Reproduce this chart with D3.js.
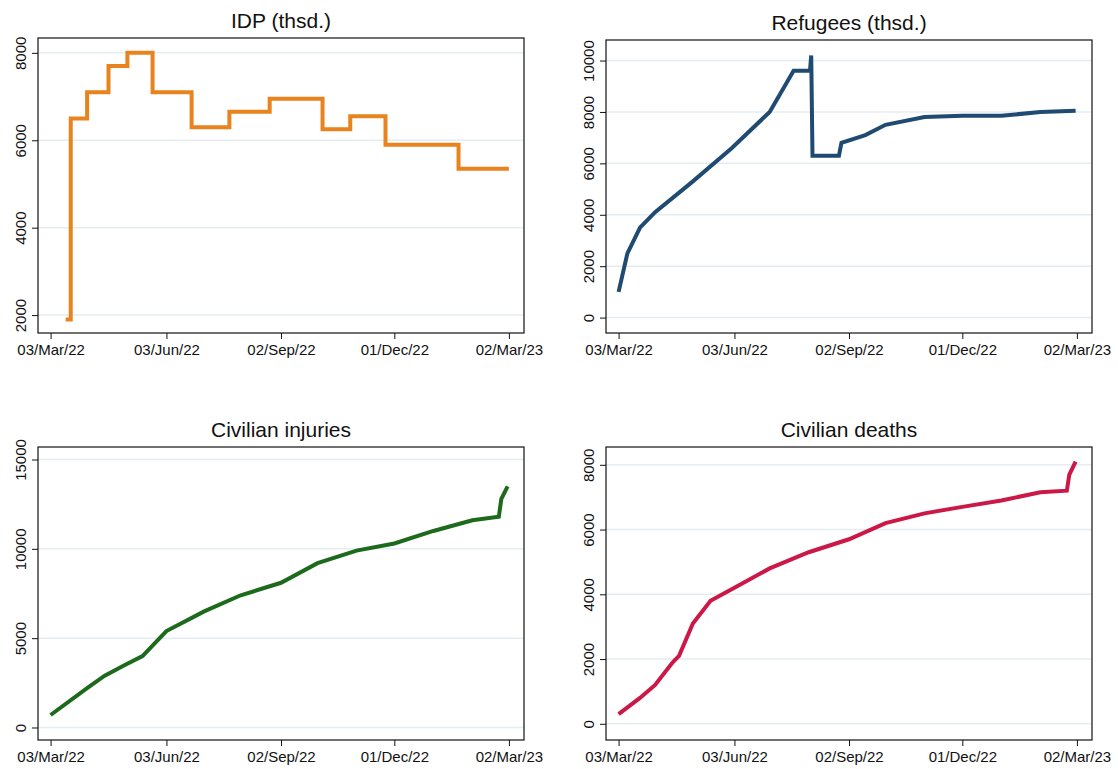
<!DOCTYPE html>
<meta charset="utf-8">
<style>
body { margin: 0; background: white; font-family: "Liberation Sans", Arial, sans-serif; }
.grid line { stroke: #e4edf1; stroke-width: 1.5px; }
.axis text { font-size: 15px; fill: #111; }
.axis path, .axis line { stroke: #111; }
</style>
<body>
<script src="https://d3js.org/d3.v7.min.js"></script>
<script>

const width = 1118
const height = 769
const parse = d3.timeParse('%Y-%m-%d')

// step series: IDP (thsd.)
const idpDates = ['2022-03-15','2022-03-19','2022-04-01','2022-04-18','2022-05-03','2022-05-23','2022-06-23','2022-07-23','2022-08-24','2022-10-05','2022-10-27','2022-11-24','2023-01-21','2023-03-02']
const idpValues = [1900, 6500, 7100, 7700, 8000, 7100, 6300, 6650, 6950, 6250, 6550, 5900, 5350, 5350]

const refDates = ['2022-03-03','2022-03-10','2022-03-20','2022-04-01','2022-05-01','2022-06-01','2022-07-01','2022-07-20','2022-08-02','2022-08-03','2022-08-04','2022-08-25','2022-08-27','2022-09-15','2022-10-01','2022-11-01','2022-12-01','2023-01-01','2023-02-01','2023-03-01']
const refValues = [1000, 2500, 3500, 4100, 5300, 6600, 8000, 9600, 9600, 10200, 6300, 6300, 6800, 7100, 7500, 7800, 7850, 7850, 8000, 8050]

const injDates = ['2022-03-03','2022-04-01','2022-04-15','2022-05-01','2022-05-15','2022-06-03','2022-07-03','2022-08-01','2022-09-02','2022-10-01','2022-11-01','2022-12-01','2023-01-01','2023-02-01','2023-02-22','2023-02-24','2023-03-01']
const injValues = [700, 2200, 2900, 3500, 4000, 5400, 6500, 7400, 8100, 9200, 9900, 10300, 11000, 11600, 11800, 12800, 13500]

const dthDates = ['2022-03-03','2022-03-20','2022-04-01','2022-04-15','2022-04-20','2022-05-01','2022-05-15','2022-06-03','2022-07-01','2022-08-01','2022-09-02','2022-10-01','2022-11-01','2022-12-01','2023-01-01','2023-02-01','2023-02-22','2023-02-24','2023-03-01']
const dthValues = [300, 800, 1200, 1900, 2100, 3100, 3800, 4200, 4800, 5300, 5700, 6200, 6500, 6700, 6900, 7150, 7200, 7700, 8100]

const xTicks = ['2022-03-03','2022-06-03','2022-09-02','2022-12-01','2023-03-02']

const panels = [
  { title: 'IDP (thsd.)', dates: idpDates, values: idpValues, color: '#e8831e', step: true,
    left: 38, top: 38, bottom: 333, y0: 1590, y1: 8340, ticks: [2000, 4000, 6000, 8000] },
  { title: 'Refugees (thsd.)', dates: refDates, values: refValues, color: '#1f4b72',
    left: 606, top: 40, bottom: 333, y0: -600, y1: 10800, ticks: [0, 2000, 4000, 6000, 8000, 10000] },
  { title: 'Civilian injuries', dates: injDates, values: injValues, color: '#1d6a1d',
    left: 38, top: 447, bottom: 740, y0: -700, y1: 15700, ticks: [0, 5000, 10000, 15000] },
  { title: 'Civilian deaths', dates: dthDates, values: dthValues, color: '#cc1847',
    left: 606, top: 447, bottom: 740, y0: -500, y1: 8550, ticks: [0, 2000, 4000, 6000, 8000] }
]

const svg = d3.select('body').append('svg').attr('width', width).attr('height', height)

panels.forEach(p => {
  const w = 486
  const g = svg.append('g')
  const x = d3.scaleTime()
    .domain([parse('2022-02-21'), parse('2023-03-14')])
    .range([p.left, p.left + w])
  const y = d3.scaleLinear().domain([p.y0, p.y1]).range([p.bottom, p.top])

  g.append('g').attr('class', 'grid')
    .selectAll('line').data(p.ticks).enter().append('line')
    .attr('x1', p.left).attr('x2', p.left + w)
    .attr('y1', d => y(d)).attr('y2', d => y(d))

  g.append('rect').attr('x', p.left).attr('y', p.top)
    .attr('width', w).attr('height', p.bottom - p.top)
    .attr('fill', 'none').attr('stroke', '#111').attr('stroke-width', 1.2)

  const pts = p.dates.map((d, i) => [parse(d), p.values[i]])
  const line = d3.line().x(d => x(d[0])).y(d => y(d[1]))
    .curve(p.step ? d3.curveStepAfter : d3.curveLinear)
  g.append('path').datum(pts).attr('d', line)
    .attr('fill', 'none').attr('stroke', p.color).attr('stroke-width', 4)
    .attr('stroke-linejoin', 'miter')

  g.append('g').attr('class', 'axis')
    .attr('transform', `translate(0,${p.bottom})`)
    .call(d3.axisBottom(x).tickValues(xTicks.map(parse)).tickFormat(d3.timeFormat('%d/%b/%y')).tickSize(6).tickPadding(5))
    .call(a => a.select('.domain').remove())

  const ya = g.append('g').attr('class', 'axis')
    .attr('transform', `translate(${p.left},0)`)
    .call(d3.axisLeft(y).tickValues(p.ticks).tickFormat(d3.format('d')).tickSize(6))
  ya.select('.domain').remove()
  ya.selectAll('text')
    .attr('x', 0).attr('dy', 0)
    .attr('transform', 'translate(-12,0) rotate(-90)')
    .attr('text-anchor', 'middle')

  g.append('text').attr('x', p.left + w / 2).attr('y', p.top - 10)
    .attr('text-anchor', 'middle').attr('font-size', 21).attr('fill', '#111')
    .text(p.title)
})

</script>
</body>
</html>
